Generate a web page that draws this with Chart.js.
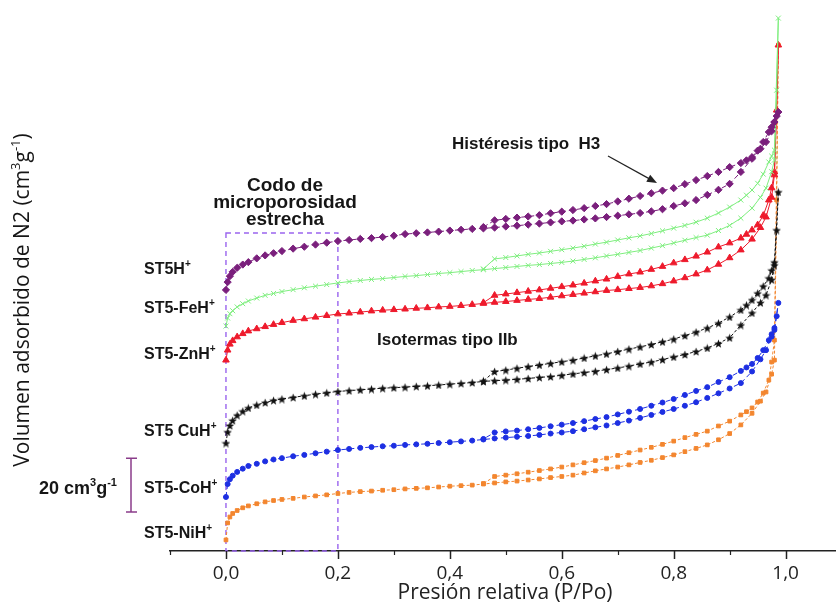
<!DOCTYPE html>
<html>
<head>
<meta charset="utf-8">
<script src="https://cdn.jsdelivr.net/npm/chart.js@4.4.1/dist/chart.umd.min.js"></script>
<style>
  html, body { margin: 0; padding: 0; background: #fff; }
  #wrap { width: 836px; height: 604px; }
</style>
</head>
<body>
<div id="wrap"><canvas id="isoChart" width="836" height="604"></canvas></div>
<script>
// Relative pressure (P/Po) for the adsorption and desorption branches
const adsP = [0, 0.003, 0.007, 0.012, 0.02, 0.03, 0.04, 0.055, 0.07, 0.085,
  0.10, 0.12, 0.14, 0.16, 0.18,
  0.20, 0.22, 0.24, 0.26, 0.28, 0.30, 0.32, 0.34, 0.36, 0.38,
  0.40, 0.42, 0.44, 0.46, 0.48, 0.50, 0.52, 0.54, 0.56, 0.58,
  0.60, 0.62, 0.64, 0.66, 0.68, 0.70, 0.72, 0.74, 0.76, 0.78,
  0.80, 0.82, 0.84, 0.86, 0.88, 0.90,
  0.92, 0.94, 0.955, 0.965, 0.975, 0.98, 0.984, 0.987];
const desP = [0.98, 0.975, 0.97, 0.96, 0.95, 0.94, 0.93, 0.92,
  0.90, 0.88, 0.86, 0.84, 0.82, 0.80, 0.78, 0.76, 0.74, 0.72,
  0.70, 0.68, 0.66, 0.64, 0.62, 0.60, 0.58, 0.56, 0.54, 0.52,
  0.50, 0.48, 0.46];

// Adsorbed volume (cm3/g, curves shifted vertically as in the figure)
const adsST5H = [96.7, 99.6, 101.8, 103.4, 104.9, 106.1, 107.0, 108.4, 109.5, 110.3,
  111.1, 112.0, 112.7, 113.5, 114.2,
  114.8, 115.2, 115.6, 115.9, 116.3, 116.8, 117.4, 117.7, 118.0, 118.3,
  118.7, 119.0, 119.3, 119.5, 119.8, 120.2, 120.5, 120.9, 121.3, 121.7,
  122.1, 122.4, 122.8, 123.2, 123.7, 124.2, 124.7, 125.2, 125.8, 126.6,
  127.8, 128.8, 130.0, 131.9, 133.8, 136.0,
  140.4, 145.3, 149.0, 151.5, 155.5, 158.9, 161.1, 162.6];
const desST5H = [158.9, 157.0, 155.2, 151.5, 148.3, 145.9, 144.7, 143.7,
  142.2, 140.4, 138.9, 137.4, 135.9, 134.4, 133.5, 132.5, 131.5, 130.5,
  129.5, 128.5, 127.8, 127.0, 126.3, 125.7, 125.1, 124.4, 123.9, 123.5,
  123.0, 122.5, 120.0];

const adsFe = [83.3, 86.3, 87.9, 89.0, 90.4, 91.6, 92.6, 93.7, 94.7, 95.4,
  96.1, 96.8, 97.5, 98.1, 98.7,
  99.3, 99.8, 100.2, 100.6, 100.9, 101.3, 101.7, 102.0, 102.4, 102.8,
  103.1, 103.5, 103.9, 104.2, 104.6, 105.0, 105.4, 105.8, 106.1, 106.5,
  106.9, 107.4, 108.0, 108.6, 109.3, 109.9, 110.6, 111.3, 112.2, 113.1,
  114.1, 115.1, 116.1, 117.0, 118.7, 120.6,
  123.3, 127.0, 131.0, 134.4, 140.5, 144.8, 170.7, 197.4];
const desFe = [148.5, 146.3, 144.1, 139.6, 136.2, 133.7, 131.8, 130.0,
  127.4, 125.2, 123.3, 121.8, 120.6, 119.6, 118.6, 117.6, 116.7, 116.0,
  115.2, 114.4, 113.7, 112.9, 112.2, 111.6, 111.0, 110.4, 109.9, 109.3,
  108.7, 108.2, 104.5];

const adsZn = [70.7, 74.4, 76.6, 77.9, 79.3, 80.5, 81.5, 82.3, 83.1, 83.9,
  84.6, 85.4, 86.0, 86.6, 87.2,
  87.8, 88.1, 88.5, 88.9, 89.2, 89.4, 89.6, 89.9, 90.1, 90.4,
  90.6, 90.9, 91.3, 91.7, 92.1, 92.4, 92.8, 93.2, 93.5, 94.0,
  94.5, 95.0, 95.5, 96.0, 96.5, 96.8, 97.2, 97.6, 98.2, 99.0,
  100.0, 101.2, 102.6, 104.1, 106.2, 108.6,
  111.5, 115.5, 119.8, 123.7, 131.0, 139.3, 163.3, 187.4];
const desZn = [140.4, 134.5, 130.0, 124.3, 120.8, 118.9, 117.3, 115.9,
  114.1, 112.6, 110.7, 109.2, 107.9, 106.7, 105.4, 104.3, 103.3, 102.6,
  101.7, 100.7, 100.0, 99.2, 98.5, 97.9, 97.3, 96.7, 96.2, 95.7,
  95.2, 94.7, 92.0];

const adsCu = [40.0, 44.1, 46.5, 48.4, 50.3, 51.8, 53.0, 54.1, 55.0, 55.8,
  56.3, 56.9, 57.5, 58.1, 58.6,
  59.1, 59.4, 59.7, 60.0, 60.3, 60.5, 60.7, 61.0, 61.2, 61.5,
  61.8, 62.1, 62.4, 62.8, 63.1, 63.3, 63.6, 63.9, 64.3, 64.6,
  65.1, 65.6, 66.1, 66.6, 67.2, 67.8, 68.5, 69.3, 70.0, 70.9,
  71.9, 72.8, 73.9, 75.2, 76.9, 79.0,
  83.7, 88.2, 92.0, 94.8, 100.5, 105.9, 118.9, 133.0];
const desCu = [107.0, 104.0, 101.1, 98.1, 95.5, 93.0, 91.1, 89.3,
  86.7, 84.4, 82.6, 81.1, 79.8, 78.5, 77.5, 76.5, 75.6, 74.8,
  73.9, 73.0, 72.3, 71.5, 70.7, 70.1, 69.5, 68.9, 68.3, 67.7,
  67.0, 66.5, 63.0];

const adsCo = [20.0, 24.8, 26.6, 27.9, 29.3, 30.5, 31.5, 32.3, 33.2, 33.9,
  34.4, 35.1, 35.6, 36.2, 36.8,
  37.4, 37.8, 38.2, 38.5, 38.8, 39.0, 39.3, 39.5, 39.7, 40.0,
  40.3, 40.6, 40.9, 41.3, 41.7, 42.0, 42.3, 42.6, 43.0, 43.5,
  43.9, 44.4, 45.1, 45.8, 46.5, 47.4, 48.3, 49.3, 50.4, 51.5,
  52.6, 53.8, 55.1, 56.7, 58.4, 60.2,
  62.2, 66.5, 71.0, 74.4, 79.4, 81.9, 87.0, 91.9];
const desCo = [82.6, 80.3, 78.1, 74.4, 71.5, 69.3, 68.0, 66.7,
  64.4, 62.6, 60.7, 59.3, 57.8, 56.3, 55.0, 53.8, 52.6, 51.6,
  50.6, 49.6, 48.9, 48.1, 47.4, 46.8, 46.2, 45.6, 45.1, 44.6,
  44.3, 43.9, 41.5];

const adsNi = [4.1, 10.4, 12.6, 13.9, 15.0, 16.0, 16.7, 17.5, 18.2, 18.7,
  19.1, 19.5, 20.0, 20.4, 20.8,
  21.3, 21.7, 22.0, 22.2, 22.5, 22.7, 23.0, 23.2, 23.4, 23.7,
  24.0, 24.2, 24.4, 24.8, 25.2, 25.6, 25.9, 26.3, 26.7, 27.2,
  27.6, 28.1, 28.9, 29.7, 30.4, 31.1, 31.9, 32.8, 33.6, 34.6,
  35.6, 36.8, 38.0, 39.3, 41.2, 43.5,
  46.7, 51.0, 55.5, 58.9, 65.5, 70.7, 130.0, 187.4];
const desNi = [78.1, 70.0, 63.3, 58.5, 55.2, 53.0, 51.6, 50.4,
  48.1, 46.3, 44.4, 43.2, 42.0, 40.7, 39.5, 38.4, 37.4, 36.4,
  35.4, 34.4, 33.5, 32.7, 31.9, 31.1, 30.4, 29.8, 29.2, 28.6,
  28.1, 27.6, 25.0];

const xTicks = [0, 0.2, 0.4, 0.6, 0.8, 1.0];
const xTickLabels = ['0,0', '0,2', '0,4', '0,6', '0,8', '1,0'];
const xMinorTicks = [-0.1, 0.1, 0.3, 0.5, 0.7, 0.9];

const TEXT = '#161616';
const AXIS_FONT = '"Open Sans", "DejaVu Sans", sans-serif';
const LABEL_FONT = '"Liberation Sans", Arial, sans-serif';

// filled five-point star for the CuH+ sample
function starImage(size, color) {
    const c = document.createElement('canvas');
    c.width = size; c.height = size;
    const g = c.getContext('2d');
    g.fillStyle = color;
    g.beginPath();
    for (let i = 0; i < 10; i++) {
        const r = i % 2 ? size * 0.21 : size * 0.5;
        const a = -Math.PI / 2 + i * Math.PI / 5;
        g.lineTo(size / 2 + r * Math.cos(a), size / 2 + 0.6 + r * Math.sin(a));
    }
    g.closePath();
    g.fill();
    return c;
}

function isotherm(ads, des, color, style, radius, dash) {
    const pts = adsP.map((p, i) => ({ x: p, y: ads[i] }))
        .concat(desP.map((p, i) => ({ x: p, y: des[i] })));
    return {
        data: pts,
        showLine: true,
        borderColor: color,
        backgroundColor: color,
        borderWidth: 1,
        borderDash: dash,
        pointStyle: style,
        pointRadius: radius,
        pointHoverRadius: radius,
        pointBorderColor: color,
        pointBackgroundColor: color,
        pointBorderWidth: 1
    };
}

// text with superscripts: parts = [[text, isSup], ...]
function drawRich(ctx, parts, x, y, size, family, bold, align) {
    const w8 = bold ? 'bold ' : '';
    const fMain = w8 + size + 'px ' + family;
    const fSup = w8 + Math.round(size * 0.62) + 'px ' + family;
    let w = 0;
    parts.forEach(p => { ctx.font = p[1] ? fSup : fMain; w += ctx.measureText(p[0]).width; });
    let cx = align === 'center' ? x - w / 2 : (align === 'right' ? x - w : x);
    ctx.textAlign = 'left';
    ctx.textBaseline = 'alphabetic';
    ctx.fillStyle = TEXT;
    parts.forEach(p => {
        ctx.font = p[1] ? fSup : fMain;
        ctx.fillText(p[0], cx, p[1] ? y - size * 0.42 : y);
        cx += ctx.measureText(p[0]).width;
    });
}

const decorPlugin = {
    id: 'decor',
    beforeDatasetsDraw(chart) {
        const { ctx, chartArea } = chart;
        const x = chart.scales.x, y = chart.scales.y;
        // dashed box round the narrow-microporosity knee
        ctx.save();
        ctx.strokeStyle = '#9a64ee';
        ctx.lineWidth = 1.4;
        ctx.setLineDash([5, 4]);
        const x0 = x.getPixelForValue(0), x1 = x.getPixelForValue(0.2);
        const yt = y.getPixelForValue(117.8);
        ctx.strokeRect(x0, yt, x1 - x0, chartArea.bottom - yt);
        ctx.restore();
    },
    afterDraw(chart) {
        const { ctx, chartArea } = chart;
        const x = chart.scales.x, y = chart.scales.y;
        const base = chartArea.bottom;
        ctx.save();

        // ticks
        ctx.strokeStyle = '#222';
        ctx.lineWidth = 1.5;
        xTicks.forEach(v => {
            const px = Math.round(x.getPixelForValue(v)) + 0.5;
            ctx.beginPath(); ctx.moveTo(px, base); ctx.lineTo(px, base + 8); ctx.stroke();
        });
        ctx.lineWidth = 1.2;
        xMinorTicks.forEach(v => {
            const px = Math.round(x.getPixelForValue(v)) + 0.5;
            ctx.beginPath(); ctx.moveTo(px, base); ctx.lineTo(px, base + 4); ctx.stroke();
        });

        // tick labels and axis titles
        ctx.fillStyle = '#222';
        ctx.font = '19px ' + AXIS_FONT;
        ctx.textAlign = 'center';
        ctx.textBaseline = 'middle';
        xTicks.forEach((v, i) => ctx.fillText(xTickLabels[i], x.getPixelForValue(v), 574));
        ctx.font = '21px ' + AXIS_FONT;
        ctx.fillText('Presión relativa (P/Po)', 505, 593);

        ctx.save();
        ctx.translate(22, 300);
        ctx.rotate(-Math.PI / 2);
        drawRich(ctx, [['Volumen adsorbido de N2 (cm', 0], ['3', 1], ['g', 0], ['-1', 1], [')', 0]],
            0, 7, 21, AXIS_FONT, false, 'center');
        ctx.restore();

        // sample labels
        const labels = [
            [[['ST5H', 0], ['+', 1]], 274],
            [[['ST5-FeH', 0], ['+', 1]], 313],
            [[['ST5-ZnH', 0], ['+', 1]], 359],
            [[['ST5 CuH', 0], ['+', 1]], 436],
            [[['ST5-CoH', 0], ['+', 1]], 493],
            [[['ST5-NiH', 0], ['+', 1]], 538]
        ];
        labels.forEach(l => drawRich(ctx, l[0], 144, l[1], 16, LABEL_FONT, true, 'left'));

        // 20 cm3/g scale bar
        drawRich(ctx, [['20 cm', 0], ['3', 1], ['g', 0], ['-1', 1]], 39, 494, 18, LABEL_FONT, true, 'left');
        const sb0 = y.getPixelForValue(14.4), sb1 = y.getPixelForValue(34.4);
        ctx.strokeStyle = '#8a3c8a';
        ctx.lineWidth = 1.5;
        ctx.beginPath();
        ctx.moveTo(131, sb0); ctx.lineTo(131, sb1);
        ctx.moveTo(126, sb0); ctx.lineTo(137, sb0);
        ctx.moveTo(126, sb1); ctx.lineTo(137, sb1);
        ctx.stroke();

        // annotations
        drawRich(ctx, [['Codo de', 0]], 285, 191, 19, LABEL_FONT, true, 'center');
        drawRich(ctx, [['microporosidad', 0]], 285, 208, 19, LABEL_FONT, true, 'center');
        drawRich(ctx, [['estrecha', 0]], 285, 225, 19, LABEL_FONT, true, 'center');
        drawRich(ctx, [['Histéresis tipo  H3', 0]], 452, 149, 17, LABEL_FONT, true, 'left');
        drawRich(ctx, [['Isotermas tipo IIb', 0]], 377, 345, 17, LABEL_FONT, true, 'left');

        // arrow to the H3 loop
        const ax0 = 608, ay0 = 156, ax1 = 657, ay1 = 183;
        const ang = Math.atan2(ay1 - ay0, ax1 - ax0);
        ctx.strokeStyle = '#222';
        ctx.fillStyle = '#222';
        ctx.lineWidth = 1.2;
        ctx.beginPath(); ctx.moveTo(ax0, ay0); ctx.lineTo(ax1 - 6 * Math.cos(ang), ay1 - 6 * Math.sin(ang)); ctx.stroke();
        ctx.beginPath();
        ctx.moveTo(ax1, ay1);
        ctx.lineTo(ax1 - 10 * Math.cos(ang) + 4 * Math.sin(ang), ay1 - 10 * Math.sin(ang) - 4 * Math.cos(ang));
        ctx.lineTo(ax1 - 10 * Math.cos(ang) - 4 * Math.sin(ang), ay1 - 10 * Math.sin(ang) + 4 * Math.cos(ang));
        ctx.closePath(); ctx.fill();

        ctx.restore();
    }
};

document.addEventListener('DOMContentLoaded', function() {
    const datasets = [
        isotherm(adsST5H, desST5H, '#7a1f7c', 'rectRot', 3.6, [5, 3]),
        isotherm(adsFe, desFe, '#7eee7e', 'crossRot', 3.5, []),
        isotherm(adsZn, desZn, '#ee1a2c', 'triangle', 3.8, []),
        isotherm(adsCu, desCu, '#111111', starImage(9, '#111111'), 4.5, [3, 2]),
        isotherm(adsCo, desCo, '#1d2fe2', 'circle', 2.5, [5, 3]),
        isotherm(adsNi, desNi, '#f3862f', 'rect', 2.6, [3, 2])
    ];

    new Chart(document.getElementById('isoChart'), {
        type: 'scatter',
        data: { datasets: datasets },
        options: {
            responsive: false,
            devicePixelRatio: 1,
            animation: false,
            layout: { autoPadding: false, padding: { left: 170, right: 0, top: 0, bottom: 0 } },
            plugins: {
                legend: { display: false },
                tooltip: { enabled: false }
            },
            scales: {
                x: {
                    type: 'linear',
                    min: -0.1,
                    max: 1.09,
                    afterBuildTicks: (scale) => { scale.ticks = xTicks.map(v => ({ value: v })); },
                    afterFit: (scale) => { scale.height = 53; },
                    ticks: { display: false },
                    grid: { display: false },
                    border: { display: true, color: '#222', width: 1.5 }
                },
                y: {
                    display: false,
                    min: 0,
                    max: 204.1
                }
            }
        },
        plugins: [decorPlugin]
    });
});
</script>
</body>
</html>
